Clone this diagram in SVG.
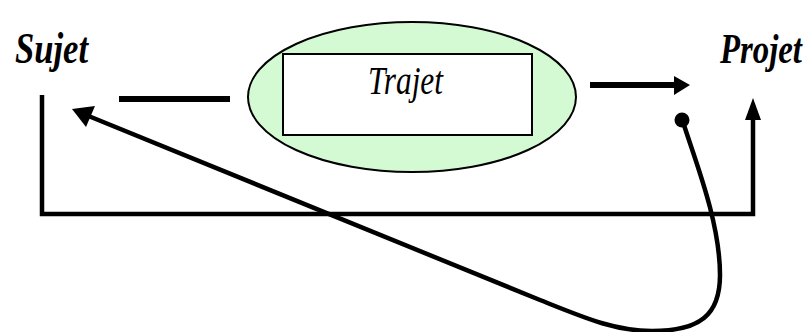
<svg xmlns="http://www.w3.org/2000/svg" width="810" height="332" viewBox="0 0 810 332">
  <style>
    .lbl { font-family: "Liberation Serif", "Times New Roman", serif; font-style: italic; fill: #000; }
    .bold { font-weight: bold; }
    .ln { stroke: #000; fill: none; }
  </style>
  <rect width="810" height="332" fill="#fff"/>
  <g id="sujet">
    <text class="lbl bold" x="15" y="63" font-size="44" textLength="73" lengthAdjust="spacingAndGlyphs">Sujet</text>
  </g>
  <g id="projet">
    <text class="lbl bold" transform="translate(720,63) scale(0.78,1)" x="0" y="0" font-size="42">Projet</text>
  </g>
  <g id="trajet">
    <ellipse cx="412" cy="97" rx="164" ry="75" fill="#d4fad4" stroke="#000" stroke-width="2"/>
    <rect x="283" y="54" width="249" height="81" fill="#fff" stroke="#000" stroke-width="2"/>
    <text class="lbl" x="368" y="94" font-size="40" textLength="75" lengthAdjust="spacingAndGlyphs">Trajet</text>
  </g>
  <g id="connectors">
    <line class="ln" x1="119" y1="99" x2="230" y2="99" stroke-width="6"/>
    <line class="ln" x1="590" y1="85" x2="676" y2="85" stroke-width="6"/>
    <polygon points="690,85 674,76 674,95"/>
    <polyline class="ln" points="42,95 42,214 753,214 753,116" stroke-width="4.5"/>
    <polygon points="753,98 745,120 761,120"/>
    <path class="ln" d="M684,125 C695,160 720,222 720,275 C720,315 700,331 652,331 C615,331 585,318 540,300 L86,115" stroke-width="4.5"/>
    <circle cx="682" cy="120" r="7.5"/>
    <polygon points="72,109 95,106 86,127"/>
  </g>
</svg>
